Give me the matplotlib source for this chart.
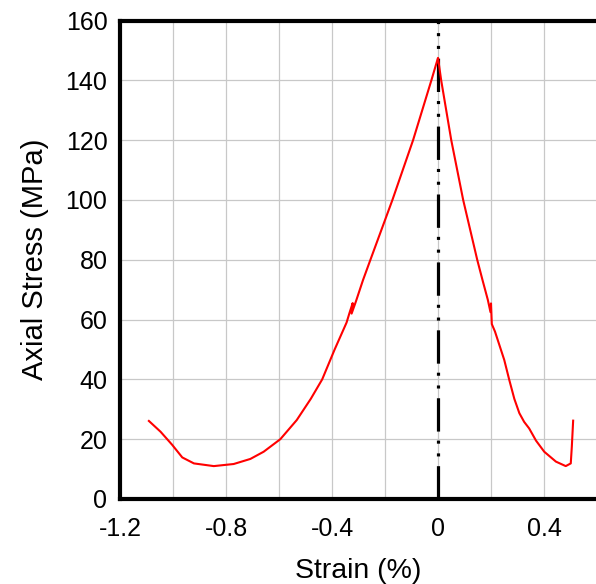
import matplotlib.pyplot as plt
import matplotlib.ticker as mticker

plt.rcParams['font.family'] = ['Liberation Sans', 'DejaVu Sans']
plt.rcParams['lines.scale_dashes'] = False

# stress-strain curve
strain = [-1.091, -1.047, -1.003, -0.965, -0.921, -0.846, -0.771, -0.708, -0.658,
          -0.595, -0.533, -0.48, -0.437, -0.39, -0.345, -0.333, -0.322, -0.326,
          -0.31, -0.283, -0.255, -0.172, -0.094, -0.025, 0.0,
          0.012, 0.05, 0.095, 0.148, 0.168, 0.188, 0.198, 0.2, 0.203,
          0.215, 0.25, 0.269, 0.288, 0.307, 0.325, 0.344, 0.37, 0.401, 0.445,
          0.482, 0.501, 0.505, 0.51]
stress = [26.1, 22.5, 18.1, 13.9, 11.9, 11.0, 11.7, 13.4, 15.8,
          20.0, 26.4, 33.5, 40.0, 50.0, 59.0, 62.5, 65.5, 62.0,
          66.0, 73.2, 80.0, 100.0, 120.0, 140.0, 147.5,
          140.0, 120.0, 100.0, 80.0, 73.2, 66.6, 62.5, 65.4, 58.5,
          56.0, 46.5, 39.8, 33.5, 28.7, 25.8, 23.6, 19.5, 15.8, 12.5,
          11.0, 11.9, 17.5, 26.2]

# reference line at zero strain
ref_x = [0, 0]
ref_y = [0, 160]

fig = plt.figure(figsize=(5.96, 5.84), dpi=100)
ax = fig.add_axes([120 / 596, 85 / 584, 477 / 596, 478.5 / 584])

ax.plot(ref_x, ref_y, color='black', lw=2.3,
        dashes=(24, 7, 2.2, 7, 2.2, 6.5), zorder=3)
ax.plot(strain, stress, color='#ff0000', lw=1.5, zorder=4)

ax.set_xlim(-1.2, 0.6)
ax.set_ylim(0, 160)
ax.xaxis.set_major_locator(mticker.MultipleLocator(0.4))
ax.xaxis.set_minor_locator(mticker.MultipleLocator(0.2))
ax.yaxis.set_major_locator(mticker.MultipleLocator(20))
ax.xaxis.set_major_formatter(mticker.FuncFormatter(lambda v, p: '0' if abs(v) < 1e-9 else f'{v:g}'))

ax.grid(True, which='both', color='#c8c8c8', lw=0.9, zorder=0)
ax.set_axisbelow(True)
ax.tick_params(which='both', length=0, labelsize=18)
ax.tick_params(axis='y', pad=9)
ax.tick_params(axis='x', pad=13)

for side in ['left', 'bottom', 'top']:
    ax.spines[side].set_linewidth(3)
ax.spines['right'].set_visible(False)

ax.set_xlabel('Strain (%)', fontsize=20.5, labelpad=12)
ax.set_ylabel('Axial Stress (MPa)', fontsize=21, labelpad=12)

fig.savefig('out.png', dpi=100)
